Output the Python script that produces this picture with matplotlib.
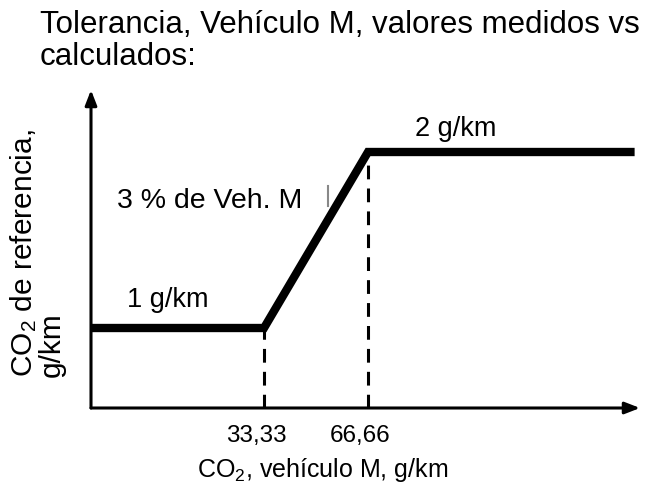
import numpy as np
import matplotlib
matplotlib.use("Agg")
import matplotlib.pyplot as plt
import matplotlib.transforms as mtransforms

plt.rcParams['font.family'] = ['Liberation Sans', 'DejaVu Sans']
plt.rcParams['mathtext.fontset'] = 'custom'
plt.rcParams['mathtext.rm'] = 'Liberation Sans'
plt.rcParams['mathtext.it'] = 'Liberation Sans'

# tolerance curve (schematic)
co2_vehicle = [0, 33.33, 66.66, 132]
co2_reference = [1.0, 1.0, 3.2, 3.2]
tick_values = [33.33, 66.66]
tick_labels = ["33,33", "66,66"]
band_labels = ["1 g/km", "3 % de Veh. M", "2 g/km"]

# drawing is not to scale: piecewise-linear x axis
_src = [0, 33.33, 66.66, 133.32]
_dst = [0, 173, 277, 549]
def fwd(x):
    return np.interp(x, _src, _dst)
def inv(x):
    return np.interp(x, _dst, _src)

fig = plt.figure(figsize=(6.52, 4.86), dpi=100)
ax = fig.add_axes([91/652, 78/486, 549/652, 318/486])
ax.set_xscale('function', functions=(fwd, inv))
ax.set_xlim(0, 133.32)
ax.set_ylim(0, 318/80)

ax.plot(co2_vehicle, co2_reference, color='black', lw=6, solid_joinstyle='miter',
        solid_capstyle='butt', clip_on=False)
for xv, yv in zip(co2_vehicle[1:3], co2_reference[1:3]):
    ax.plot([xv, xv], [0, yv], color='black', lw=2.2, dashes=(4.5, 3))

for s in ax.spines.values():
    s.set_visible(False)
arrow = dict(arrowstyle='-|>,head_length=0.9,head_width=0.35', color='black', lw=2.2,
             shrinkA=0, shrinkB=0)
ax.annotate('', xy=(1, 0), xytext=(0, 0), xycoords='axes fraction', arrowprops=arrow)
ax.annotate('', xy=(0, 1), xytext=(0, 0), xycoords='axes fraction', arrowprops=arrow)

ax.set_xticks(tick_values)
ax.set_xticklabels(tick_labels, fontsize=17.5)
ax.tick_params(axis='x', length=0, pad=12)
ax.set_yticks([])
shift = mtransforms.ScaledTranslation(-8/100, 0, fig.dpi_scale_trans)
for lbl in ax.get_xticklabels():
    lbl.set_transform(lbl.get_transform() + shift)

ax.set_xlabel("CO$_2$, vehículo M, g/km", fontsize=18)
ax.xaxis.set_label_coords((323 - 91) / 549, -0.15)
ax.set_ylabel("CO$_2$ de referencia,\ng/km", fontsize=21.5, multialignment='left',
              linespacing=0.95)
ax.yaxis.set_label_coords(-0.046, 0.486)

ax.text(inv(36), 1.26, band_labels[0], fontsize=19.5)
ax.text(inv(26), 2.5, band_labels[1], fontsize=20.5)
ax.text(inv(324), 3.4, band_labels[2], fontsize=19.5)
ax.plot([inv(237), inv(237)], [2.53, 2.78], color='#888888', lw=1.5)

fig.text(40/652, 1 - 10/486, "Tolerancia, Vehículo M, valores medidos vs\ncalculados:",
         fontsize=22.5, va='top', ha='left', linespacing=1.1)

fig.savefig("out.png", dpi=100)
